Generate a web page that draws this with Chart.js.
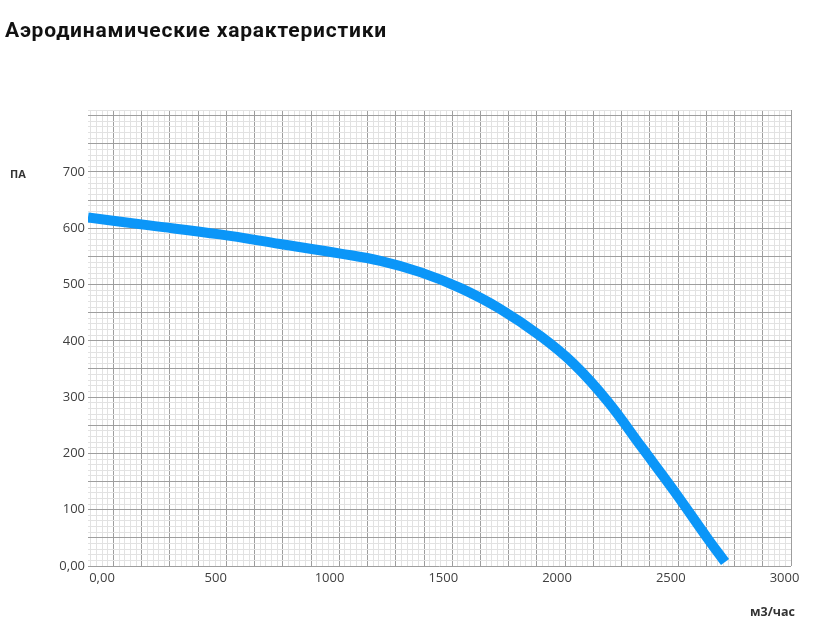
<!DOCTYPE html>
<html>
<head>
<meta charset="utf-8">
<script src="https://cdn.jsdelivr.net/npm/chart.js@4.4.0/dist/chart.umd.min.js"></script>
<style>
    body { margin: 0; background: #fff; }
    #wrap { position: relative; width: 813px; height: 638px; }
    #title { position: absolute; left: 5px; top: 18px; font: bold 21px Roboto, sans-serif; letter-spacing: 0.8px; color: #111; }
    .unit { position: absolute; font: bold 11px "Open Sans", sans-serif; color: #333; }
</style>
</head>
<body>
<div id="wrap">
    <canvas id="fanChart" width="813" height="638"></canvas>
    <div id="title">Аэродинамические характеристики</div>
    <div class="unit" style="left:10px; top:166px">ПА</div>
    <div class="unit" style="left:750px; top:603px; font-size:12.5px">м3/час</div>
</div>
<script>
// расход воздуха, м3/час
const flow = [0, 270, 580, 845, 1110, 1285, 1460, 1635, 1810, 1990, 2135, 2285, 2430, 2575, 2720, 2800];
// давление, Па
const pressure = [619, 605, 589, 572, 555, 542, 522, 494, 457, 408, 359, 292, 213, 134, 51, 7];

const xTicks = [0, 500, 1000, 1500, 2000, 2500, 3000];
const yTicks = [0, 100, 200, 300, 400, 500, 600, 700];

const tickFont = { family: '"Open Sans", sans-serif', size: 13 };
const tickColor = '#404040';
const majorColor = '#9e9e9e';
const minorColor = '#e2e2e2';

function fmt(v) {
    return v === 0 ? '0,00' : String(v);
}

document.addEventListener('DOMContentLoaded', function() {
    const ctx = document.getElementById('fanChart').getContext('2d');
    new Chart(ctx, {
        type: 'line',
        data: {
            datasets: [{
                data: flow.map((x, i) => ({ x: x, y: pressure[i] })),
                borderColor: '#0b96f8',
                borderWidth: 10,
                pointRadius: 0,
                fill: false,
                tension: 0.4,
                borderCapStyle: 'butt'
            }]
        },
        options: {
            responsive: false,
            animation: false,
            layout: { autoPadding: false, padding: { left: 0, right: 22, top: 110, bottom: 0 } },
            plugins: { legend: { display: false }, tooltip: { enabled: false } },
            scales: {
                // подписи расхода
                x: {
                    type: 'linear',
                    position: 'bottom',
                    min: 0,
                    max: 3090,
                    grid: { display: false, drawTicks: false },
                    border: { display: false },
                    afterBuildTicks: s => { s.ticks = xTicks.map(v => ({ value: v })); },
                    afterFit: s => { s.height = 72; },
                    ticks: {
                        autoSkip: false,
                        maxRotation: 0,
                        labelOffset: 14,
                        padding: 4,
                        font: tickFont,
                        color: tickColor,
                        callback: v => fmt(v)
                    }
                },
                // миллиметровка по вертикали (в клетках)
                gx: {
                    type: 'linear',
                    axis: 'x',
                    position: 'top',
                    min: -0.904,
                    max: 24,
                    border: { display: false },
                    afterBuildTicks: s => {
                        const t = [];
                        for (let k = -4; k <= 120; k++) t.push({ value: k / 5 });
                        s.ticks = t;
                    },
                    afterFit: s => { s.height = 0; },
                    ticks: { display: false },
                    grid: {
                        drawTicks: false,
                        lineWidth: 1,
                        color: c => (Math.round(c.tick.value * 5) % 5 === 0 ? majorColor : minorColor)
                    }
                },
                y: {
                    type: 'linear',
                    min: 0,
                    max: 810,
                    border: { display: false },
                    afterBuildTicks: s => {
                        const t = [];
                        for (let v = 0; v <= 810; v += 10) t.push({ value: v });
                        s.ticks = t;
                    },
                    afterFit: s => { s.width = 88; },
                    ticks: {
                        autoSkip: false,
                        padding: 3,
                        font: tickFont,
                        color: tickColor,
                        callback: v => (yTicks.includes(v) ? fmt(v) : '')
                    },
                    grid: {
                        drawTicks: false,
                        lineWidth: 1,
                        color: c => (c.tick.value % 50 === 0 ? majorColor : minorColor)
                    }
                }
            }
        }
    });
});
</script>
</body>
</html>
